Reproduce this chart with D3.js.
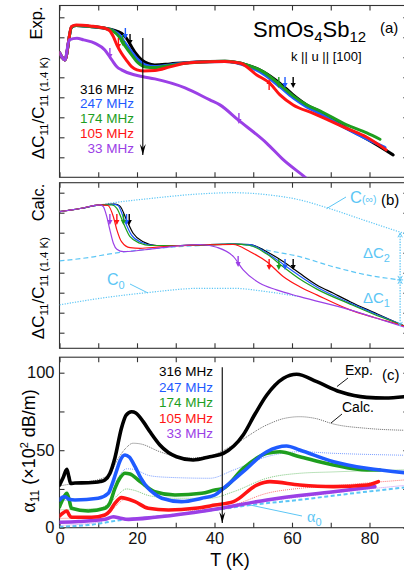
<!DOCTYPE html>
<html><head><meta charset="utf-8">
<script src="https://cdn.jsdelivr.net/npm/d3@7"></script>
<style>
body{margin:0;background:#fff}
svg{display:block;font-family:"Liberation Sans",Arial,Helvetica,sans-serif}
</style>
</head><body>
<svg id="chart" width="404" height="576"></svg>
<script>
// ---------------- DATA ----------------
const freqLabels = ["316 MHz", "247 MHz", "174 MHz", "105 MHz", "33 MHz"];
const xTickValues = [0, 10, 20, 30, 40, 50, 60, 70, 80, 90];
const xTickLabels = [0, 20, 40, 60, 80];
const yTicksA = [1, 2, 3, 4, 5, 6, 7, 8];
const yTicksB = [1, 2, 3, 4, 5, 6, 7, 8];
const yTicksC = [0, 25, 50, 75, 100];
const yLabelsC = [0, 50, 100];

// Panel (a) experiment: [T (K), relative change (arb. units)]
const aExp316 = [[0,6.23],[1.4,5.87],[3.1,7.5],[4.3,7.59],[7.9,7.54],[11.7,7.45],[13.8,7.37],[16.0,7.2],[17.2,6.97],[18.6,6.53],[19.7,6.19],[21.2,5.87],[22.8,5.69],[24.6,5.62],[28.5,5.67],[32.4,5.73],[38.8,5.79],[42.7,5.8],[48.3,5.62],[52.6,5.28],[56.9,4.7],[60.3,4.12],[63.8,3.62],[67.2,3.28],[74.1,2.45],[79.3,1.92],[86.1,1.12]];
const aExp247 = [[0,6.23],[1.4,5.87],[3.1,7.5],[4.3,7.59],[7.9,7.54],[11.7,7.45],[13.8,7.34],[15.4,7.12],[16.9,6.72],[18.6,6.27],[20.3,5.87],[22.1,5.62],[24.6,5.54],[28.5,5.62],[32.4,5.72],[38.8,5.78],[42.7,5.79],[48.3,5.57],[52.6,5.17],[56.9,4.52],[60.3,3.97],[63.8,3.52],[67.2,3.19],[74.1,2.43],[79.3,1.92],[84,1.49]];
const aExp174 = [[0,6.23],[1.4,5.87],[3.1,7.5],[4.3,7.59],[7.9,7.54],[11.7,7.45],[13.8,7.32],[15.4,7.02],[16.9,6.57],[18.6,6.12],[20.3,5.72],[22.1,5.52],[24.6,5.49],[28.5,5.59],[32.4,5.7],[38.8,5.78],[42.7,5.8],[48.3,5.62],[52.6,5.27],[56.9,4.62],[60.3,4.07],[63.8,3.62],[67.2,3.32],[74.1,2.62],[79.3,2.22],[82.7,1.9]];
const aExp105 = [[0,6.23],[1.4,5.87],[3.1,7.54],[4.3,7.62],[7.9,7.57],[11.7,7.45],[13,7.32],[13.9,7.03],[14.8,6.62],[16,6.2],[17.2,5.87],[18.6,5.53],[20,5.37],[21.6,5.32],[24.6,5.34],[28.5,5.52],[32.4,5.7],[38.8,5.78],[42.7,5.79],[46.7,5.7],[50.9,5.12],[54.3,4.7],[56.9,4.12],[60.3,3.62],[65.5,3.2],[74.1,2.45],[79.3,2.0],[84.3,1.37]];
const aExp33 = [[0,6.23],[1.4,5.87],[2.5,6.87],[4.5,6.95],[6.2,6.87],[9.2,6.7],[11.7,6.37],[13.5,5.87],[14.8,5.53],[16,5.37],[19,5.14],[21.6,5.03],[24.6,4.92],[32.4,4.47],[38.8,3.87],[41.4,3.62],[46.1,2.87],[53.5,1.7],[57.8,0.87],[63.4,0],[64.6,-0.2]];

// Panel (b) calculation
const bCalc316 = [[0,7.05],[5.3,7.21],[10.5,7.39],[14.3,7.43],[15.6,7.33],[17.3,6.64],[19,5.97],[21.6,5.55],[25.1,5.36],[31.1,5.36],[36.3,5.39],[44.8,5.43],[49.2,5.41],[53.5,5.05],[57.8,4.55],[62,3.97],[66.4,3.39],[70.7,2.97],[75,2.55],[81.4,1.99],[88.7,1.36],[90,1.25]];
const bCalc247 = [[0,7.05],[5.3,7.21],[10.5,7.39],[14,7.42],[15.1,7.36],[16.9,6.55],[18.6,5.88],[21.2,5.51],[24.5,5.36],[31.1,5.36],[36.3,5.39],[44.8,5.43],[49.2,5.4],[53.5,4.98],[57.8,4.41],[62,3.83],[66.4,3.28],[75,2.48],[81.4,1.95],[88.7,1.36],[90,1.25]];
const bCalc174 = [[0,7.05],[5.3,7.21],[10.5,7.39],[13.5,7.39],[14.8,7.22],[16.5,6.47],[18.2,5.8],[20.8,5.47],[23.4,5.36],[31.1,5.36],[36.3,5.39],[44.8,5.43],[49.2,5.36],[53.5,4.93],[57.8,4.28],[62,3.68],[66.4,3.18],[75,2.43],[81.4,1.9],[88.7,1.36],[90,1.25]];
const bCalc105 = [[0,7.05],[5.3,7.21],[10.5,7.39],[12.5,7.36],[13.9,6.8],[14.8,6.14],[16,5.55],[18.2,5.25],[20.8,5.22],[25.9,5.29],[36.3,5.39],[44.8,5.41],[49.2,5.05],[53.5,4.55],[57.8,3.8],[62,3.3],[66.4,2.89],[75,2.14],[81.4,1.75],[88.7,1.34],[90,1.25]];
const bCalc33 = [[0,7.05],[5.3,7.21],[10.5,7.39],[11.3,7.3],[12.2,6.8],[13,6.14],[13.9,5.47],[14.8,5.17],[16.5,5.05],[25.1,5.22],[36.3,5.41],[40.6,5.27],[44.9,4.8],[47.4,4.14],[51.7,3.47],[56,3.14],[62,2.8],[75,2.14],[81.4,1.75],[88.7,1.3],[90,1.22]];
const bCinf = [[10.5,7.39],[13,7.47],[23.4,7.71],[36.3,7.94],[44.8,8.0],[53.5,7.9],[62,7.64],[69.3,7.23],[79.3,6.58],[88.7,5.98],[90,5.9]];
const bCmid = [[0,4.59],[7.9,4.77],[13,4.94],[23.4,5.19],[36.3,5.36],[44.8,5.43],[49.2,5.34],[53.5,5.13],[62,4.8],[70.6,4.3],[79.3,3.89],[87.9,3.64]];
const bC0 = [[0,2.39],[10.5,2.72],[23.4,3.02],[36.3,3.22],[44.8,3.22],[53.5,3.05],[62,2.8]];
const bBracket = [5.97, 3.64, 1.34]; // C(inf), mid, C0 at T = 87.9
const bBracketT = 87.9;

// Panel (c) attenuation (x10^2 dB/m)
const cExp316 = [[0,27.5],[0.9,32],[1.9,37.7],[2.4,33],[2.9,28.6],[4,28.8],[7.4,29],[10.5,29.8],[11.7,30.8],[13,35],[14.3,45],[16,64.3],[17.2,72.6],[18.6,74.8],[19.7,74],[21.6,68.4],[23.4,61.7],[25.9,53.4],[30.2,45.8],[34.5,43.7],[38.8,45.8],[42.3,48],[47.4,59.8],[50.5,73.5],[53.5,85.6],[57.8,96.4],[61.2,99],[66.4,94.2],[72.4,87.7],[79.3,84.1],[84,83.7],[90,84.8]];
const cExp247 = [[0,17.9],[0.9,19.8],[1.5,20],[2.3,18.5],[4,17.9],[10,19],[12.6,22.2],[13.5,27.5],[14.8,37.2],[15.6,43],[16.9,46.9],[18,45.6],[19.5,39.4],[21,32],[22.9,25.4],[24.6,21.7],[26.4,19],[31.5,16.8],[36.7,19],[40.1,21.1],[42.3,25.4],[47.4,36.1],[53.5,49],[58.6,52.7],[62,50.1],[70.7,42.6],[79.3,38.3],[90,35.3]];
const cExp174 = [[0,13.5],[0.9,18.5],[1.9,22.2],[2.5,17.9],[3.1,12.5],[7.4,10.8],[11.7,12.5],[13,15.9],[14.3,25.4],[15.6,32],[16.9,35.1],[18.2,34.6],[20.3,30.8],[22.1,27.2],[24.6,23.2],[29.8,21.1],[36.7,22.2],[40.1,24.3],[42.3,25.4],[47.4,38.3],[53.5,48],[56.9,49],[62,45.8],[70.7,40.5],[79.3,37.2],[82.7,37.2]];
const cExp105 = [[0,7.5],[0.9,9.5],[1.9,10.8],[2.5,8.2],[3.1,6.7],[8.3,6.7],[11.7,8.2],[13,10.8],[14.3,15.7],[16,19.4],[17.2,18.8],[19.5,16.8],[22.9,12.5],[28.1,11.4],[35,12.5],[40.1,14.6],[44.9,16.8],[50.9,27.5],[54.3,29.7],[62,27.5],[70.7,26.5],[79.3,27.5],[82.3,29.7]];
const cExp33 = [[0,3.5],[5,4],[11.7,5.4],[13.9,7.1],[15.5,6.3],[17.8,5.4],[24.6,6.7],[33.2,9.3],[40.1,11.9],[53.5,17.9],[70.7,23.2],[81.4,26.5]];
const cCalc316 = [[0,27],[5,29],[10,31],[13,35],[15,44],[17,51],[19,54.5],[21,54],[25.9,49],[32.8,44.8],[38.8,46.3],[44.9,53.4],[53.5,66.3],[58,70.5],[62,71.6],[66,70.5],[70.7,66.9],[79.3,64.1],[90,62.8]];
const cCalc247 = [[0,17.5],[10,19.5],[13,24],[15,32],[17.3,38],[19,37.7],[23.4,33.5],[28,32.5],[38.8,31.9],[44.9,37.2],[53.5,45.8],[62,49],[70.7,48],[90,46.7]];
const cCalc174 = [[0,11.5],[10,12.5],[13,16],[15,21],[17.3,25],[19,24.3],[23.4,20.5],[30,19],[38.8,19],[44.9,23.2],[53.5,31.9],[62,35.1],[70.7,36],[90,37.4]];
const cCalc105 = [[0,6],[10,7],[13,10],[15,15],[16.5,17.9],[18.2,17.5],[23.4,12.5],[30,11.5],[38.8,11.4],[44.9,14.6],[53.5,22.2],[62,25.4],[70.7,27],[80,29],[90,31]];
const cCalc33 = [[0,1.5],[10,3.5],[13,6],[15,6.3],[20,5.5],[30,8],[40,11.5],[53.5,17],[70.7,22.5],[90,27.5]];
const cAlpha0 = [[0,0.6],[7.5,1.7],[16,5],[24.6,7.1],[40,11.4],[49.2,14.6],[62,18],[75,22],[90,26.2]];

// Transition markers [T, value, direction(+1 down, -1 up)]
const aMarksLow = [[18.2,6.62,1],[17.0,6.92,1],[16.3,6.57,1],[15.2,6.42,1],[13.0,5.92,1]];
const aMarksHigh = [[60.3,4.47,1],[58.2,4.47,1],[56.6,4.47,1],[54.1,4.92,-1],[46.3,2.67,1]];
const bMarksLow = [[18.0,6.39,1],[17.3,6.39,1],[16.5,6.39,1],[14.8,6.39,1],[13.0,6.39,1]];
const bMarksHigh = [[60.3,4.13,1],[58.2,4.13,1],[56.6,4.13,1],[54.1,4.13,1],[46.1,4.29,1]];
// Big "increasing frequency" arrows: [T, from, to]
const aBigArrow = [21.5, 6.96, 1.12];
const cBigArrow = [42, 103.5, 3];

// ---------------- STYLE ----------------
const COLORS = ["#000000", "#1f5bff", "#1e9e1e", "#ff1414", "#9b40e6"];
const LIGHT = "#5cc6f5";
const FRAME = "#333";

// ---------------- SCALES ----------------
const x = d3.scaleLinear().domain([0, 90]).range([59.5, 408.25]);
const yA = d3.scaleLinear().domain([0, 8.59]).range([177.3, 5.5]);
const yB = d3.scaleLinear().domain([0.22, 8.5]).range([348.3, 182.7]);
const yC = d3.scaleLinear().domain([0, 110]).range([527.7, 357.2]);

const svg = d3.select("#chart");
const defs = svg.append("defs");

function frame(id, y, yTicks, yLabels) {
  const [b, t] = y.range();
  defs.append("clipPath").attr("id", id).append("rect")
    .attr("x", x(0)).attr("y", t).attr("width", x(90) - x(0)).attr("height", b - t);
  const g = svg.append("g");
  g.append("rect").attr("x", x(0)).attr("y", t).attr("width", x(90) - x(0)).attr("height", b - t)
    .attr("fill", "none").attr("stroke", FRAME).attr("stroke-width", 1.1);
  const style = sel => { sel.select(".domain").remove(); sel.selectAll(".tick line").attr("stroke", FRAME).attr("stroke-width", 1.1);
    sel.attr("font-family", null).attr("font-size", 16.5).selectAll("text").attr("fill", "#111"); };
  g.append("g").attr("transform", `translate(0,${t})`)
    .call(d3.axisTop(x).tickValues(xTickValues).tickSizeInner(-5).tickSizeOuter(0).tickFormat("")).call(style);
  const bottomAxis = d3.axisBottom(x).tickValues(xTickValues).tickSizeInner(-5).tickSizeOuter(0).tickPadding(5)
    .tickFormat(d => (id === "clipC" && xTickLabels.includes(d)) ? d : "");
  g.append("g").attr("transform", `translate(0,${b})`).call(bottomAxis).call(style);
  g.append("g").attr("transform", `translate(${x(0)},0)`)
    .call(d3.axisLeft(y).tickValues(yTicks).tickSizeInner(-5).tickSizeOuter(0).tickPadding(5)
      .tickFormat(d => yLabels.includes(d) ? d : "")).call(style);
  g.append("g").attr("transform", `translate(${x(90)},0)`)
    .call(d3.axisRight(y).tickValues(yTicks).tickSizeInner(-5).tickSizeOuter(0).tickFormat("")).call(style);
  return svg.append("g").attr("clip-path", `url(#${id})`);
}

const lineOf = y => d3.line().x(d => x(d[0])).y(d => y(d[1])).curve(d3.curveMonotoneX);

function rich(xp, yp, parts, opt = {}) {
  const t = svg.append("text").attr("x", xp).attr("y", yp)
    .attr("fill", opt.fill || "#000").attr("text-anchor", opt.anchor || "start");
  if (opt.rotate) t.attr("transform", `rotate(-90,${xp},${yp})`);
  parts.forEach(p => {
    const s = t.append("tspan").attr("font-size", p[1]).attr("dy", p[2] || 0).text(p[0]);
    if (p[3]) s.attr("font-family", p[3]);
  });
  return t;
}

function marker(g, xp, yp, dir, color) {
  const len = 11, hw = 2.6, hl = 5;
  g.append("line").attr("x1", xp).attr("x2", xp).attr("y1", yp - dir * len).attr("y2", yp - dir * hl * 0.6)
    .attr("stroke", color).attr("stroke-width", 1.4);
  g.append("path").attr("d", `M${xp - hw},${yp - dir * hl}L${xp + hw},${yp - dir * hl}L${xp},${yp}Z`).attr("fill", color);
}

function bigArrow(xp, y1, y2) {
  svg.append("line").attr("x1", xp).attr("x2", xp).attr("y1", y1).attr("y2", y2).attr("stroke", "#000").attr("stroke-width", 1.1);
  svg.append("path").attr("d", `M${xp - 3},${y2 - 11}L${xp},${y2}L${xp + 3},${y2 - 11}L${xp},${y2 - 7}Z`).attr("fill", "#000");
}

// ---------------- PANEL (a) ----------------
const gA = frame("clipA", yA, yTicksA, []);
const aSeries = [aExp316, aExp247, aExp174, aExp105, aExp33];
[0, 1, 2, 3, 4].forEach(i => {
  gA.append("path").attr("d", lineOf(yA)(aSeries[i])).attr("fill", "none")
    .attr("stroke", COLORS[i]).attr("stroke-width", 3).attr("stroke-linejoin", "round").attr("stroke-linecap", "round");
});
aMarksLow.forEach((m, i) => marker(gA, x(m[0]), yA(m[1]), m[2], COLORS[i]));
aMarksHigh.forEach((m, i) => marker(gA, x(m[0]), yA(m[1]), m[2], COLORS[i]));
bigArrow(x(aBigArrow[0]), yA(aBigArrow[1]), yA(aBigArrow[2]));
freqLabels.forEach((f, i) => svg.append("text").attr("x", 134).attr("y", 93.5 + i * 14.8)
  .attr("text-anchor", "end").attr("font-size", 13.5).attr("fill", COLORS[i]).text(f));
rich(253, 37, [["SmOs", 22], ["4", 15, 5], ["Sb", 22, -5], ["12", 15, 5]]);
rich(380, 33, [["(a)", 15]]);
rich(291, 61, [["k || u || [100]", 13]]);
rich(42, 23, [["Exp.", 16.5]], { rotate: true, anchor: "middle" });
rich(44, 108, [["ΔC", 17], ["11", 11.5, 4], ["/C", 17, -4], ["11", 11.5, 4], [" (1.4 K)", 11.5, 0]], { rotate: true, anchor: "middle" });

// ---------------- PANEL (b) ----------------
const gB = frame("clipB", yB, yTicksB, []);
const dotted = "1.2,1.4";
gB.append("path").attr("d", lineOf(yB)(bCinf)).attr("fill", "none").attr("stroke", LIGHT).attr("stroke-width", 1.2).attr("stroke-dasharray", dotted);
gB.append("path").attr("d", lineOf(yB)(bC0)).attr("fill", "none").attr("stroke", LIGHT).attr("stroke-width", 1.2).attr("stroke-dasharray", dotted);
gB.append("path").attr("d", lineOf(yB)(bCmid)).attr("fill", "none").attr("stroke", LIGHT).attr("stroke-width", 1.2).attr("stroke-dasharray", "5,3");
const bSeries = [bCalc316, bCalc247, bCalc174, bCalc105, bCalc33];
[0, 1, 2, 3, 4].forEach(i => {
  gB.append("path").attr("d", lineOf(yB)(bSeries[i])).attr("fill", "none")
    .attr("stroke", COLORS[i]).attr("stroke-width", 1.2);
});
bMarksLow.forEach((m, i) => marker(gB, x(m[0]), yB(m[1]), m[2], COLORS[i]));
bMarksHigh.forEach((m, i) => marker(gB, x(m[0]), yB(m[1]), m[2], COLORS[i]));
// Delta C bracket
{
  const bx = x(bBracketT), [y1, y2, y3] = bBracket.map(yB);
  svg.append("line").attr("x1", bx).attr("x2", bx).attr("y1", y1).attr("y2", y3)
    .attr("stroke", LIGHT).attr("stroke-width", 1.2).attr("stroke-dasharray", "1.5,1.2");
  const head = (yy, dir) => svg.append("path").attr("d", `M${bx - 2.2},${yy + dir * 4}L${bx},${yy}L${bx + 2.2},${yy + dir * 4}`)
    .attr("fill", "none").attr("stroke", LIGHT).attr("stroke-width", 1);
  head(y1, 1); head(y2, -1); head(y2, 1); head(y3, -1);
  svg.append("line").attr("x1", bx - 3).attr("x2", bx + 3).attr("y1", y2).attr("y2", y2).attr("stroke", LIGHT);
}
rich(350, 203, [["C", 16.5], ["(∞)", 10.5, 0]], { fill: LIGHT });
svg.append("line").attr("x1", x(68.9)).attr("y1", yB(7.2)).attr("x2", 346).attr("y2", 197).attr("stroke", LIGHT).attr("stroke-width", 1);
rich(381, 205, [["(b)", 15]]);
rich(363, 258, [["ΔC", 15], ["2", 11, 4]], { fill: LIGHT });
rich(363, 303, [["ΔC", 15], ["1", 11, 4]], { fill: LIGHT });
rich(107, 285, [["C", 16], ["0", 11, 4]], { fill: LIGHT });
svg.append("line").attr("x1", 130).attr("y1", 284).attr("x2", 148).attr("y2", 293).attr("stroke", LIGHT).attr("stroke-width", 1);
rich(44, 202.5, [["Calc.", 16.5]], { rotate: true, anchor: "middle" });
rich(44, 288, [["ΔC", 17], ["11", 11.5, 4], ["/C", 17, -4], ["11", 11.5, 4], [" (1.4 K)", 11.5, 0]], { rotate: true, anchor: "middle" });

// ---------------- PANEL (c) ----------------
const gC = frame("clipC", yC, yTicksC, yLabelsC);
gC.append("path").attr("d", lineOf(yC)(cAlpha0)).attr("fill", "none").attr("stroke", LIGHT).attr("stroke-width", 2).attr("stroke-dasharray", "4,2.5");
const cCalc = [cCalc316, cCalc247, cCalc174, cCalc105, cCalc33];
[0, 1, 2, 3, 4].forEach(i => {
  gC.append("path").attr("d", lineOf(yC)(cCalc[i])).attr("fill", "none")
    .attr("stroke", COLORS[i]).attr("stroke-width", 1).attr("stroke-dasharray", "1,1").attr("opacity", 0.6);
});
const cExp = [cExp316, cExp247, cExp174, cExp105, cExp33];
[4, 3, 2, 1, 0].forEach(i => {
  gC.append("path").attr("d", lineOf(yC)(cExp[i])).attr("fill", "none")
    .attr("stroke", COLORS[i]).attr("stroke-width", 3.6).attr("stroke-linejoin", "round").attr("stroke-linecap", "round");
});
bigArrow(x(cBigArrow[0]), yC(cBigArrow[1]), yC(cBigArrow[2]));
freqLabels.forEach((f, i) => svg.append("text").attr("x", 213).attr("y", 376 + i * 15.6)
  .attr("text-anchor", "end").attr("font-size", 13.5).attr("fill", COLORS[i]).text(f));
rich(345, 375, [["Exp.", 14]]);
svg.append("line").attr("x1", 337).attr("y1", 386.5).attr("x2", 348).attr("y2", 378).attr("stroke", "#000").attr("stroke-width", 0.9);
rich(342, 412, [["Calc.", 14]]);
svg.append("line").attr("x1", 331).attr("y1", 423).attr("x2", 342).attr("y2", 414).attr("stroke", "#000").attr("stroke-width", 0.9);
rich(382, 380, [["(c)", 15]]);
rich(307, 522, [["α", 16, 0, "Liberation Serif"], ["0", 11, 4]], { fill: LIGHT });
svg.append("line").attr("x1", 302).attr("y1", 516).attr("x2", 250).attr("y2", 505).attr("stroke", LIGHT).attr("stroke-width", 1);
rich(35, 451, [["α", 20, 0, "Liberation Serif"], ["11", 12, 4], [" (×10", 18, -4], ["2", 11, -7], [" dB/m)", 18, 7]], { rotate: true, anchor: "middle" });
rich(230, 566, [["T (K)", 18]], { anchor: "middle" });
</script>
</body></html>
